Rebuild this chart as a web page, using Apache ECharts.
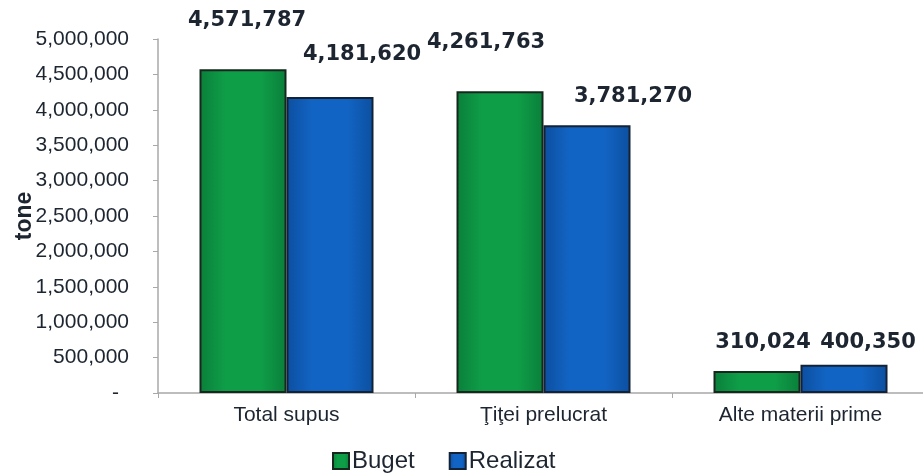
<!DOCTYPE html>
<html>
<head>
<meta charset="utf-8">
<script src="https://cdn.jsdelivr.net/npm/echarts@6/dist/echarts.min.js"></script>
<style>
html,body{margin:0;padding:0;background:#fff;}
#chart{width:923px;height:473px;}
</style>
</head>
<body>
<div id="chart"></div>
<script>
// ---- data ----
const categories = ['Total supus', 'Ţiţei prelucrat', 'Alte materii prime'];
const seriesNames = ['Buget', 'Realizat'];
const bugetValues = [4571787, 4261763, 310024];
const realizatValues = [4181620, 3781270, 400350];
const yTicks = [0, 500000, 1000000, 1500000, 2000000, 2500000, 3000000, 3500000, 4000000, 4500000, 5000000];
const yAxisTitle = 'tone';

// ---- layout (label nudges, px) ----
const bugetLabelOffsets = [[4, -33], [-14, -33], [6, -13]];
const realizatLabelOffsets = [[32, -27], [46, -13], [24, -7]];

function fmt(v) {
  if (v === 0) return '- \u2009';
  return v.toLocaleString('en-US');
}

function grad(edge, mid) {
  return new echarts.graphic.LinearGradient(0, 0, 1, 0, [
    { offset: 0, color: edge },
    { offset: 0.3, color: mid },
    { offset: 0.7, color: mid },
    { offset: 1, color: edge }
  ]);
}

function buildData(values, offsets) {
  return values.map((v, i) => ({
    value: v,
    label: { offset: offsets[i] }
  }));
}

const labelStyle = {
  show: true,
  position: 'top',
  fontFamily: 'DejaVu Sans',
  fontWeight: 'bold',
  fontSize: 21,
  color: '#1c2530',
  formatter: p => fmt(p.value)
};

const chart = echarts.init(document.getElementById('chart'));
chart.setOption({
  animation: false,
  backgroundColor: '#ffffff',
  grid: { left: 158, top: 39, bottom: 80, right: -6, containLabel: false, outerBoundsMode: 'none' },
  legend: {
    data: seriesNames,
    left: 327,
    top: 444,
    icon: 'rect',
    itemWidth: 16,
    itemHeight: 16,
    itemGap: 34,
    textStyle: { fontFamily: 'Liberation Sans', fontSize: 24, color: '#1c2530', padding: [0, 0, 0, -2] }
  },
  xAxis: {
    type: 'category',
    data: categories,
    axisLine: { lineStyle: { color: '#a8a8a8', width: 1.5 } },
    axisTick: { show: true, length: 5, lineStyle: { color: '#a8a8a8' } },
    axisLabel: { fontFamily: 'Liberation Sans', fontSize: 21, color: '#1c2530', margin: 12 }
  },
  yAxis: {
    type: 'value',
    min: yTicks[0],
    max: yTicks[yTicks.length - 1],
    interval: yTicks[1] - yTicks[0],
    name: yAxisTitle,
    nameLocation: 'middle',
    nameRotate: 90,
    nameGap: 122,
    nameMoveOverlap: false,
    nameTextStyle: { fontFamily: 'Liberation Sans', fontWeight: 'bold', fontSize: 23, color: '#1c2530' },
    splitLine: { show: false },
    axisLine: { show: true, lineStyle: { color: '#a8a8a8', width: 1.5 } },
    axisTick: { show: true, length: 5, lineStyle: { color: '#a8a8a8' } },
    axisLabel: { fontFamily: 'Liberation Sans', fontSize: 21, color: '#1c2530', margin: 29, formatter: fmt }
  },
  series: [
    {
      name: seriesNames[0],
      type: 'bar',
      barWidth: 87,
      barGap: '0%',
      data: buildData(bugetValues, bugetLabelOffsets),
      itemStyle: { color: grad('#0a7f3a', '#0f9e48'), borderColor: '#16281e', borderWidth: 2 },
      label: labelStyle
    },
    {
      name: seriesNames[1],
      type: 'bar',
      barWidth: 87,
      barGap: '0%',
      data: buildData(realizatValues, realizatLabelOffsets),
      itemStyle: { color: grad('#0c4fa0', '#1264c4'), borderColor: '#142236', borderWidth: 2 },
      label: labelStyle
    }
  ]
});
</script>
</body>
</html>
